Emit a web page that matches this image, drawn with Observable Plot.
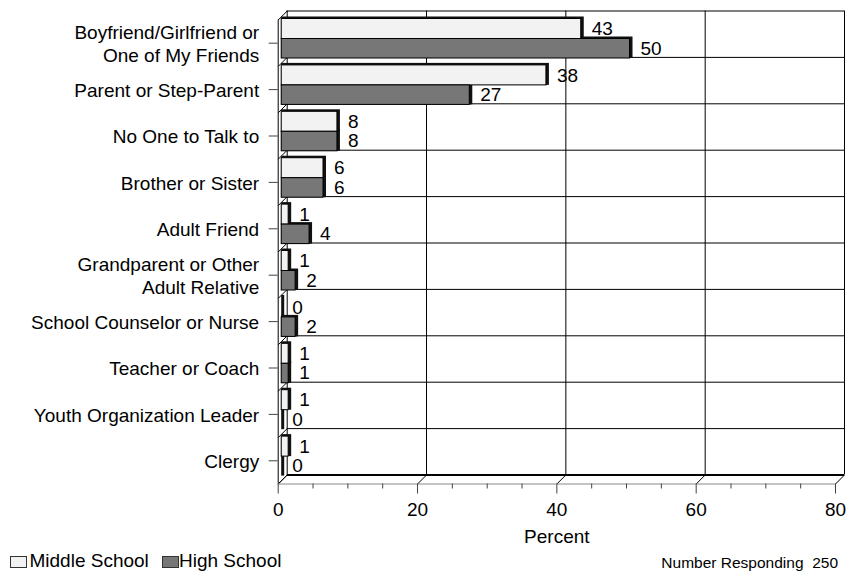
<!DOCTYPE html>
<html>
<head>
<meta charset="utf-8">
<script src="https://cdn.jsdelivr.net/npm/d3@7"></script>
<script src="https://cdn.jsdelivr.net/npm/@observablehq/plot@0.6"></script>
<style>
  body { margin: 0; background: #fff; }
  #wrap { position: relative; width: 846px; height: 574px; font-family: 'Liberation Sans', Arial, sans-serif; color: #000; }
  .sw { position: absolute; width: 15px; height: 10px; border: 1px solid #333; }
  .lt { position: absolute; font-size: 19px; line-height: 19px; white-space: pre; }
  #note { position: absolute; right: 8px; top: 555px; font-size: 15.5px; line-height: 15.5px; white-space: pre; }
</style>
</head>
<body>
<div id="wrap"></div>
<script>
// ---- data ----
const categories = [
  "Boyfriend/Girlfriend or\nOne of My Friends",
  "Parent or Step-Parent",
  "No One to Talk to",
  "Brother or Sister",
  "Adult Friend",
  "Grandparent or Other\nAdult Relative",
  "School Counselor or Nurse",
  "Teacher or Coach",
  "Youth Organization Leader",
  "Clergy"
];
const middleSchool = [43, 38, 8, 6, 1, 1, 0, 1, 1, 1];
const highSchool   = [50, 27, 8, 6, 4, 2, 2, 1, 0, 0];
const seriesNames = ["Middle School", "High School"];
const seriesColors = ["#f2f2f2", "#777777"];
const xTicks = [0, 20, 40, 60, 80];
const xMinorTicks = [5, 10, 15, 25, 30, 35, 45, 50, 55, 65, 70, 75];
const xLabel = "Percent";
const note = "Number Responding  250";

const rows = categories.map((c, i) => ({category: c, ms: middleSchool[i], hs: highSchool[i]}));
const lastCat = categories[categories.length - 1];

// ---- layout ----
const W = 846, H = 574;
const mT = 19.5, mB = 90.5, mL = 277.7, mR = 11;
const bw = (H - mT - mB) / categories.length;
const depth = 9;
// custom symbol: a receding diagonal edge (3D depth line)
const depthEdge = {draw(context) { context.moveTo(0, 0); context.lineTo(depth, -depth); }};
const barDx = 3.5, barDy = -3.5;

const chart = Plot.plot({
  width: W, height: H,
  marginLeft: mL, marginRight: mR, marginTop: mT, marginBottom: mB,
  style: {fontFamily: "'Liberation Sans', Arial, sans-serif", fontSize: "19px", color: "#000", background: "#fff", overflow: "visible"},
  x: {domain: [0, 80], label: null},
  y: {domain: categories, padding: 0, round: false, label: null},
  marks: [
    // back wall vertical grid
    Plot.ruleX(xTicks, {dx: depth, dy: -depth, stroke: "#000", strokeWidth: 1}),
    // back wall horizontal separators
    Plot.ruleY(categories, {x1: 0, x2: 80, dx: depth, dy: -bw / 2 - depth, stroke: "#000", strokeWidth: 1}),
    // back floor edge
    Plot.ruleY([lastCat], {x1: 0, x2: 80, dx: depth, dy: bw / 2 - depth, stroke: "#000", strokeWidth: 2.2}),
    // left wall front edge
    Plot.ruleX([0], {stroke: "#000", strokeWidth: 1}),
    // left wall diagonals
    Plot.dot(categories, {x: () => 0, y: d => d, dy: -bw / 2, r: 3, symbol: depthEdge, fill: "none", stroke: "#000", strokeWidth: 1}),
    Plot.dot([lastCat], {x: () => 0, y: d => d, dy: bw / 2, r: 3, symbol: depthEdge, fill: "none", stroke: "#000", strokeWidth: 1}),
    // floor diagonals
    Plot.dot(xTicks, {x: d => d, y: () => lastCat, dy: bw / 2, r: 3, symbol: depthEdge, fill: "none", stroke: "#000", strokeWidth: 1}),
    // front floor edge
    Plot.ruleY([lastCat], {x1: 0, x2: 80, dy: bw / 2, stroke: "#888", strokeWidth: 1}),
    // axes
    Plot.axisX({ticks: xMinorTicks, tickSize: 5, tickFormat: () => "", label: null, stroke: "#444"}),
    Plot.axisX({ticks: xTicks, tickSize: 10, tickPadding: 8.5, label: null, stroke: "#444", fill: "#000"}),
    Plot.axisY({tickSize: 9, tickPadding: 10, lineHeight: 1.2, label: null, stroke: "#444", fill: "#000"}),
    // bar extrusions
    Plot.barX(rows, {y: "category", x1: 0, x2: "ms", dx: barDx, dy: barDy, insetTop: 0.5, insetBottom: 23.9, insetRight: -3, fill: "#111"}),
    Plot.barX(rows, {y: "category", x1: 0, x2: "hs", dx: barDx, dy: barDy, insetTop: 20.5, insetBottom: 4.4, insetRight: -3, fill: "#111"}),
    // bar faces
    Plot.barX(rows, {y: "category", x1: 0, x2: "ms", dx: barDx, dy: barDy, insetTop: 2.5, insetBottom: 23.9, fill: seriesColors[0], stroke: "#000", strokeWidth: 1}),
    Plot.barX(rows, {y: "category", x1: 0, x2: "hs", dx: barDx, dy: barDy, insetTop: 22.5, insetBottom: 4.4, fill: seriesColors[1], stroke: "#000", strokeWidth: 1}),
    // value labels
    Plot.text(rows, {y: "category", x: "ms", text: d => String(d.ms), dx: 14, dy: -14, textAnchor: "start", fill: "#000"}),
    Plot.text(rows, {y: "category", x: "hs", text: d => String(d.hs), dx: 14, dy: 5.3, textAnchor: "start", fill: "#000"}),
    // x label
    Plot.text([xLabel], {text: d => d, frameAnchor: "bottom", dy: 59.4, fill: "#000"})
  ]
});

const wrap = document.getElementById("wrap");
wrap.appendChild(chart);
chart.style.position = "absolute";
chart.style.left = "0";
chart.style.top = "0";

// legend + note
const legendItems = [
  {name: seriesNames[0], color: seriesColors[0], sx: 10, tx: 29.5},
  {name: seriesNames[1], color: seriesColors[1], sx: 161.5, tx: 179}
];
for (const it of legendItems) {
  const s = document.createElement("div");
  s.className = "sw";
  s.style.left = it.sx + "px";
  s.style.top = "556px";
  s.style.background = it.color;
  wrap.appendChild(s);
  const t = document.createElement("div");
  t.className = "lt";
  t.style.left = it.tx + "px";
  t.style.top = "551px";
  t.textContent = it.name;
  wrap.appendChild(t);
}
const n = document.createElement("div");
n.id = "note";
n.textContent = note;
wrap.appendChild(n);
</script>
</body>
</html>
